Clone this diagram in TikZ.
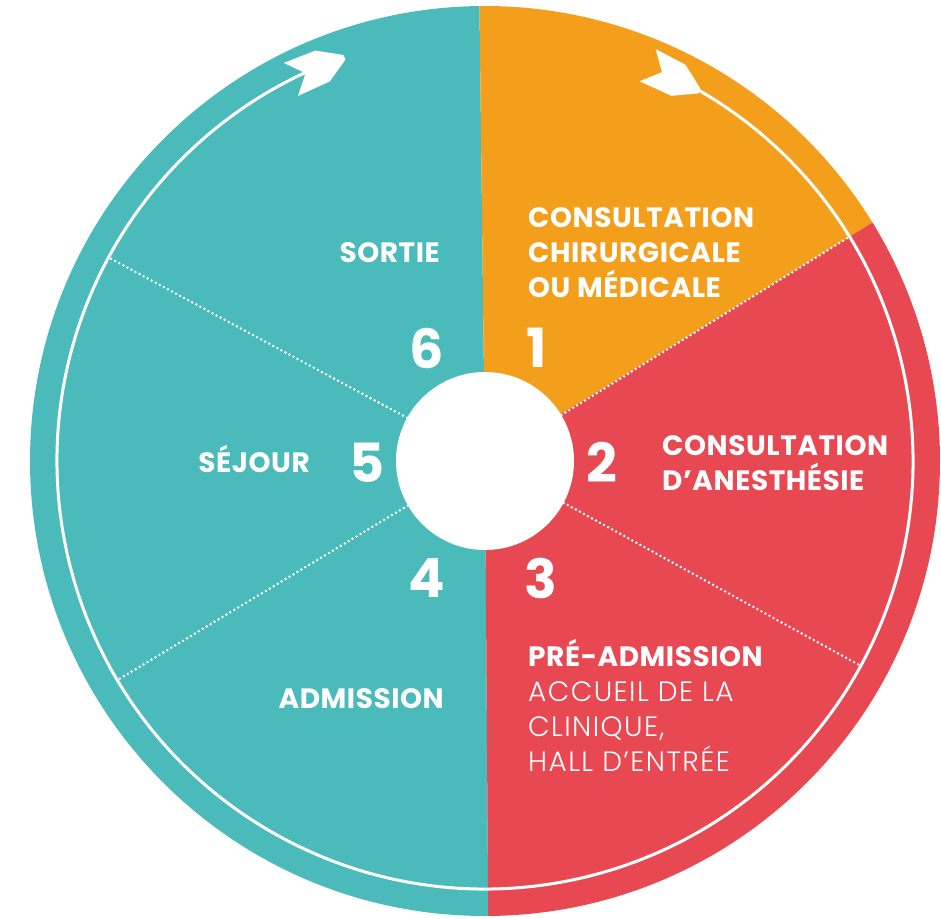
\documentclass[tikz,border=0pt]{standalone}
\usepackage{fontspec}
\setmainfont{Poppins}
\newfontfamily\popwide[LetterSpace=2]{Poppins}
\IfFontExistsTF{Poppins Light}{\newfontfamily\poplight[LetterSpace=5]{Poppins Light}}{\newfontfamily\poplight[LetterSpace=5]{Poppins}}
\usepackage{xcolor}
\definecolor{wheelTeal}{HTML}{4BBABA}
\definecolor{wheelOrange}{HTML}{F49F1B}
\definecolor{wheelRed}{HTML}{E84852}
\usepackage{tikz}
\usetikzlibrary{positioning}
\tikzset{
    stepname/.style={
        text=white,
        inner sep=0pt,
        align=left,
        font=\popwide\bfseries\fontsize{28}{35}\selectfont
    },
    stepnum/.style={
        text=white,
        inner sep=0pt,
        font=\bfseries\fontsize{54}{54}\selectfont
    },
    dotline/.style={
        white,
        line width=2.8pt,
        line cap=round,
        dash pattern=on 0pt off 4.6pt
    },
    ringline/.style={
        white,
        line width=3pt
    },
    ringtip/.style={
        fill=white
    }
}
% arrow head on the ring: #1 tip angle, #2 rotation of its axis
\newcommand{\ringhead}[2]{%
    \fill[ringtip, shift={(#1:428)}, rotate=#2]
        (0,2) -- (-24,17) -- (-58,18) -- (-42,0) -- (-58,-18) -- (-23,-17) -- (0,-3) -- cycle;}

\begin{document}
\begin{tikzpicture}[x=1pt, y=1pt]
    \useasboundingbox (0,0) rectangle (941,918);
    \coordinate (c) at (485,457);

    \begin{scope}[shift={(c)}]
        % the three coloured parts
        \fill[wheelTeal] (0,0) -- (90.7:455) arc[start angle=90.7, end angle=270.4, radius=455] -- cycle;
        \fill[wheelOrange] (0,0) -- (31.6:455) arc[start angle=31.6, end angle=90.7, radius=455] -- cycle;
        \fill[wheelRed] (0,0) -- (-89.6:455) arc[start angle=-89.6, end angle=31.6, radius=455] -- cycle;

        \node[circle, fill=white, minimum size=178pt, inner sep=0pt] (hub) at (0,0) {};

        % dotted separators
        \foreach \a in {31.6, -28.6, 151.6, 210.8}
            \draw[dotline] (hub.\a) -- (\a:426);

        % ring with its two heads
        \draw[ringline] (59.9:428) arc[start angle=59.9, end angle=-245.2, radius=428];
        \ringhead{109.2}{23}
        \ringhead{59.9}{-26.2}
    \end{scope}

    % numbers
    \node[stepnum] (n1) at (537,570) {1};
    \node[stepnum] (n2) at (602,456) {2};
    \node[stepnum] (n3) at (541,340) {3};
    \node[stepnum] (n4) at (427,340) {4};
    \node[stepnum] (n5) at (367,455) {5};
    \node[stepnum] (n6) at (427,570) {6};

    % labels
    \node[stepname, anchor=north west] (consult) at (528,711)
        {CONSULTATION\\CHIRURGICALE\\OU MÉDICALE};
    \node[stepname, anchor=north west] (anesth) at (662,483)
        {CONSULTATION\\D’ANESTHÉSIE};
    \node[stepname, anchor=north west] (preadm) at (528,279)
        {PRÉ-ADMISSION\\{\poplight\mdseries ACCUEIL DE LA}\\{\poplight\mdseries CLINIQUE,}\\{\poplight\mdseries HALL D’ENTRÉE}};
    \node[stepname, anchor=base east] (admis) at (444,210) {ADMISSION};
    \node[stepname, anchor=base east] (sejour) at (310,445) {SÉJOUR};
    \node[stepname, anchor=base east] (sortie) at (440,655) {SORTIE};
\end{tikzpicture}
\end{document}
